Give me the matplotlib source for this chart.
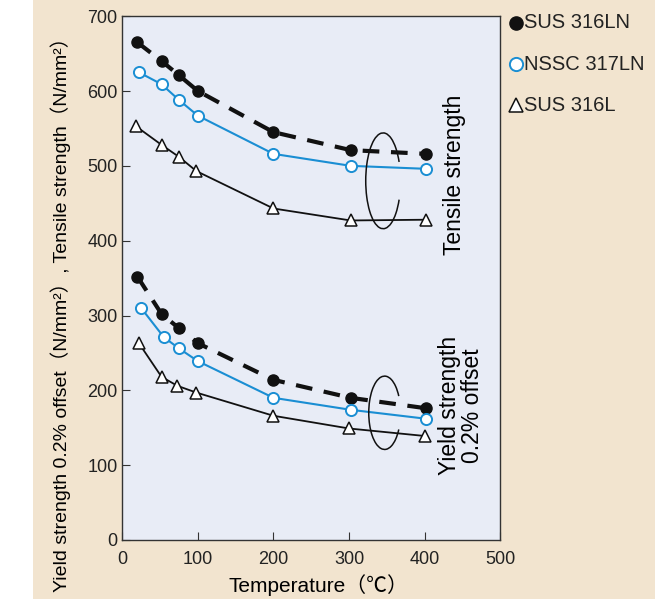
import numpy as np
import matplotlib.pyplot as plt
from matplotlib.patches import Arc

plt.rcParams['font.family'] = ['Liberation Sans', 'Noto Sans CJK JP']

# tensile strength (N/mm2)
t_ln_x = [20, 52, 75, 100, 200, 302, 402]
t_ln = [665, 640, 621, 600, 545, 521, 516]
t_317_x = [22, 52, 75, 100, 200, 302, 402]
t_317 = [625, 609, 588, 567, 516, 500, 496]
t_l_x = [18, 52, 75, 98, 200, 302, 402]
t_l = [553, 528, 512, 493, 443, 427, 428]

# yield strength 0.2% offset (N/mm2)
y_ln_x = [20, 52, 75, 100, 200, 302, 402]
y_ln = [352, 302, 283, 263, 214, 190, 176]
y_317_x = [25, 55, 75, 100, 200, 302, 402]
y_317 = [310, 271, 256, 239, 190, 174, 162]
y_l_x = [22, 52, 73, 98, 200, 300, 400]
y_l = [263, 218, 206, 197, 166, 149, 139]

legend_names = ['SUS 316LN', 'NSSC 317LN', 'SUS 316L']

blue = '#1a8ed3'
fig = plt.figure(figsize=(6.68, 5.99), dpi=100)
fig.patch.set_facecolor('white')
# beige panel behind the chart
fig.patches.append(plt.Rectangle((33 / 668, 0), (655 - 33) / 668, 1, transform=fig.transFigure,
                                 facecolor='#f2e4cf', edgecolor='none', zorder=-5))
ax = fig.add_axes([0.183, 0.0985, 0.566, 0.8745])
ax.set_zorder(2)
ax.set_facecolor('#e8ecf6')

def draw(x, y, style):
    if style == 'ln':
        ax.plot(x, y, color='#111111', lw=3, ls=(0, (4, 2.8)), zorder=2)
        ax.plot(x, y, 'o', ms=8, color='#111111', zorder=3)
    elif style == '317':
        ax.plot(x, y, color=blue, lw=1.5, zorder=2)
        ax.plot(x, y, 'o', ms=8, mfc='white', mec=blue, mew=1.4, zorder=3)
    else:
        ax.plot(x, y, color='#111111', lw=1.3, zorder=2)
        ax.plot(x, y, '^', ms=8.5, mfc='white', mec='#111111', mew=1.1, zorder=3)

draw(t_ln_x, t_ln, 'ln')
draw(t_317_x, t_317, '317')
draw(t_l_x, t_l, 'l')
draw(y_ln_x, y_ln, 'ln')
draw(y_317_x, y_317, '317')
draw(y_l_x, y_l, 'l')

ax.add_patch(Arc((345, 480), 46, 128, theta1=50, theta2=310, color='#111111', lw=1.1, zorder=4))
ax.add_patch(Arc((347, 170), 42, 98, theta1=50, theta2=310, color='#111111', lw=1.1, zorder=4))

ax.text(440, 488, 'Tensile strength', rotation=90, ha='center', va='center', fontsize=16.5)
ax.text(448, 180, 'Yield strength\n0.2% offset', rotation=90, ha='center', va='center',
        fontsize=16.5, linespacing=0.95)

ax.set_xlim(0, 500)
ax.set_ylim(0, 700)
ax.set_xticks(range(0, 501, 100))
ax.set_yticks(range(0, 701, 100))
ax.tick_params(direction='in', length=6, labelsize=13, color='#333333', labelcolor='#222222')
ax.tick_params(axis='x', pad=8)
for s in ax.spines.values():
    s.set_color('#333333')
    s.set_linewidth(1.0)

ax.set_xlabel('Temperature（℃）', fontsize=15, labelpad=3)
ax.xaxis.set_label_coords(0.52, -0.065)
ax.set_ylabel('Yield strength 0.2% offset（N/mm²）, Tensile strength（N/mm²）', fontsize=14)
ax.yaxis.set_label_coords(-0.135, 0.44)

# legend at right outside the frame
leg_y = [0.962, 0.893, 0.824]
leg_kw = [dict(marker='o', color='#111111'),
          dict(marker='o', mfc='white', mec=blue, mew=1.4),
          dict(marker='^', mfc='white', mec='#111111', mew=1.1)]
for name, yy, kw in zip(legend_names, leg_y, leg_kw):
    fig.lines.append(plt.Line2D([0.772], [yy], transform=fig.transFigure, ms=9.5, ls='none', **kw))
    fig.text(0.785, yy, name, va='center', ha='left', fontsize=14.5, color='#222222')

fig.savefig('out.png', dpi=100, facecolor=fig.get_facecolor())
